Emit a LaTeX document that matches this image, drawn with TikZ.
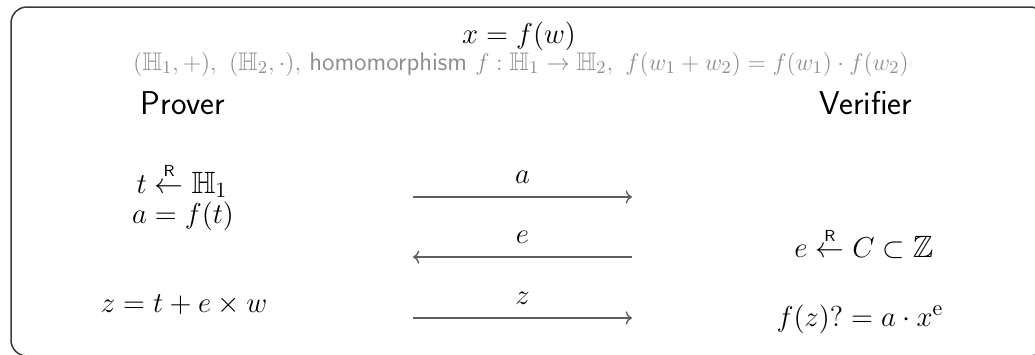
\documentclass[tikz,border=0pt]{standalone}
\usepackage{amsmath,amssymb}
\usepackage{tikz}
\usetikzlibrary{arrows.meta,positioning}
\usepackage{xcolor}
\definecolor{framegray}{HTML}{3A3A3A}
\definecolor{notegray}{HTML}{8E8E8E}
\definecolor{msggray}{HTML}{5F5F5F}
\newcommand{\sampleR}{\mathrel{\overset{\scriptscriptstyle\mathsf{R}}{\leftarrow}}}
\tikzset{
  party/.style={font=\fontsize{16.5}{19}\sffamily},
  note/.style={text=notegray, inner sep=0pt, font=\fontsize{12.7}{15}\selectfont},
  eqn/.style={inner sep=0pt},
  msg/.style={->, msggray, line width=0.7pt},
  msglbl/.style={midway, above=3.5pt, inner sep=3pt, text=black}
}

\begin{document}
\begin{tikzpicture}[x=0.5pt, y=-0.5pt, font=\fontsize{15.4}{18}\selectfont]
  \useasboundingbox (0,0) rectangle (1035,354);
  \draw[framegray, line width=0.75pt, rounded corners=8pt] (11,7) rectangle (1046,356);
  \node[eqn, font=\fontsize{14.5}{17}\selectfont] (stmt) at (519,36) {$x = f(w)$};
  \node[note] (setup) at (521,64) {$(\mathbb{H}_1,+),\ (\mathbb{H}_2,\cdot),$ \textsf{homomorphism} $f:\mathbb{H}_1\to\mathbb{H}_2,\ f(w_1+w_2)=f(w_1)\cdot f(w_2)$};
  \node[party] (prover) at (183,103) {Prover};
  \node[party] (verifier) at (866,103) {Verifier};
  % prover side
  \node[eqn] (pick) at (182,180) {$t \sampleR \mathbb{H}_1$};
  \node[eqn] (commit) at (183,216) {$a = f(t)$};
  \node[eqn] (resp) at (184,305) {$z = t + e \times w$};
  % verifier side
  \node[eqn] (chal) at (864,243) {$e \sampleR C \subset \mathbb{Z}$};
  \node[eqn] (check) at (860,319) {$f(z)? = a \cdot x^{\mathrm{e}}$};
  % messages
  \coordinate (aL) at (413,197);
  \coordinate (aR) at (632,197);
  \coordinate (eL) at (413,257);
  \coordinate (eR) at (632,257);
  \coordinate (zL) at (413,318);
  \coordinate (zR) at (632,318);
  \draw[msg] (aL) -- (aR) node[msglbl] (msga) {$a$};
  \draw[msg] (eR) -- (eL) node[msglbl] (msge) {$e$};
  \draw[msg] (zL) -- (zR) node[msglbl] (msgz) {$z$};
\end{tikzpicture}
\end{document}
